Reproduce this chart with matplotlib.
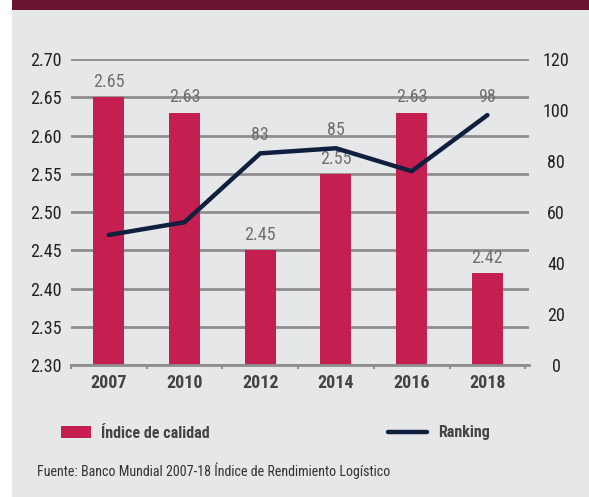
import matplotlib
matplotlib.use("Agg")
import matplotlib.pyplot as plt
from matplotlib import font_manager
from matplotlib.patches import Rectangle, Patch
from matplotlib.lines import Line2D
import numpy as np

years = ["2007", "2010", "2012", "2014", "2016", "2018"]
indice = [2.65, 2.63, 2.45, 2.55, 2.63, 2.42]
ranking = [51, 56, 83, 85, 76, 98]
ranking_labels = {2: "83", 3: "85", 5: "98"}

BG = "#E6E7E9"
BAND = "#6B1530"
BAR = "#C41F50"
LINE = "#0F1F3D"
GRID = "#8E8E8E"

# pick a narrow face if one is around
names = {(f.name, f.stretch) for f in font_manager.fontManager.ttflist}
fams = {n for n, _ in names}
narrow = None
for cand in ["Liberation Sans Narrow", "Roboto Condensed", "Open Sans Condensed",
             "DejaVu Sans Condensed", "Noto Sans Condensed"]:
    if cand in fams:
        narrow = dict(family=[cand, "DejaVu Sans"])
        break
if narrow is None:
    for n, st in names:
        if n in ("DejaVu Sans", "Noto Sans", "Roboto", "Open Sans") and str(st) in ("condensed", "semi-condensed", "75", "87.5"):
            narrow = dict(family=[n, "DejaVu Sans"], stretch="condensed")
            break
if narrow is None:
    narrow = dict(family=["DejaVu Sans"])
NARROW = narrow

fig = plt.figure(figsize=(5.89, 4.97), dpi=100)
fig.patch.set_facecolor(BG)
# white margin on the left and dark band on top
fig.patches.append(Rectangle((0, 0), 12 / 589, 1, transform=fig.transFigure,
                             facecolor="white", edgecolor="none", zorder=0))
fig.patches.append(Rectangle((12 / 589, 1 - 10 / 497), 1, 10 / 497, transform=fig.transFigure,
                             facecolor=BAND, edgecolor="none", zorder=0))

ax = fig.add_axes([71 / 589, 132 / 497, 458 / 589, 306 / 497])
ax.set_facecolor("none")
x = np.arange(len(years))

ax.set_ylim(2.30, 2.70)
ticks = np.arange(2.30, 2.701, 0.05)
ax.set_yticks(ticks)
ax.set_yticklabels([f"{v:.2f}" for v in ticks], fontsize=13, color="#222222", **NARROW)
ax.yaxis.grid(True, color=GRID, linewidth=2)
ax.set_axisbelow(True)
ax.tick_params(axis="y", length=0, pad=6.5)

ax.bar(x, [v - 2.30 for v in indice], bottom=2.30, width=0.41, color=BAR, zorder=2)
for xi, v in zip(x, indice):
    ax.text(xi, v + 0.008, f"{v:.2f}", ha="center", va="bottom",
            fontsize=13, color="#707070", zorder=3, **NARROW)

ax.set_xlim(-0.5, 5.55)
ax.set_xticks(x)
ax.set_xticklabels(years, fontsize=13, fontweight="bold", color="#444444", **NARROW)
ax.set_xticks(np.arange(-0.5, 5.6, 1), minor=True)
ax.tick_params(axis="x", which="major", length=0, pad=6.5)
ax.tick_params(axis="x", which="minor", length=3, width=1.5, color=GRID)
for s in ["top", "right", "left"]:
    ax.spines[s].set_visible(False)
ax.spines["bottom"].set_color(GRID)
ax.spines["bottom"].set_linewidth(2)

ax2 = ax.twinx()
ax2.set_ylim(0, 120)
ax2.set_yticks(range(0, 121, 20))
ax2.set_yticklabels([str(v) for v in range(0, 121, 20)], fontsize=13,
                    color="#222222", ha="center", **NARROW)
ax2.tick_params(axis="y", length=0, pad=19.5)
for s in ax2.spines.values():
    s.set_visible(False)
ax2.plot(x, ranking, color=LINE, linewidth=3.2, solid_capstyle="round",
         solid_joinstyle="miter", zorder=4)
for i, lab in ranking_labels.items():
    ax2.text(i, ranking[i] + 3.5, lab, ha="center", va="bottom",
             fontsize=13, color="#707070", **NARROW)

legend_font = dict(weight="bold", size=11.5, **NARROW)
handles = [Patch(facecolor=BAR, edgecolor="none"),
           Line2D([0], [0], color=LINE, linewidth=3.2, solid_capstyle="round")]
fig.legend(handles[:1], ["Índice de calidad"], loc="center left",
           bbox_to_anchor=(47 / 589, 1 - 433 / 497), frameon=False,
           prop=legend_font, handlelength=1.85, handleheight=0.7,
           handletextpad=0.6, labelcolor="#444444")
fig.legend(handles[1:], ["Ranking"], loc="center left",
           bbox_to_anchor=(374 / 589, 1 - 433 / 497), frameon=False,
           prop=legend_font, handlelength=2.4,
           handletextpad=0.7, labelcolor="#444444")

fig.text(37 / 589, 1 - 471 / 497, "Fuente: Banco Mundial 2007-18 Índice de Rendimiento Logístico",
         fontsize=10.1, color="#333333", va="center", **NARROW)

fig.savefig("out.png", dpi=100, facecolor=fig.get_facecolor())
